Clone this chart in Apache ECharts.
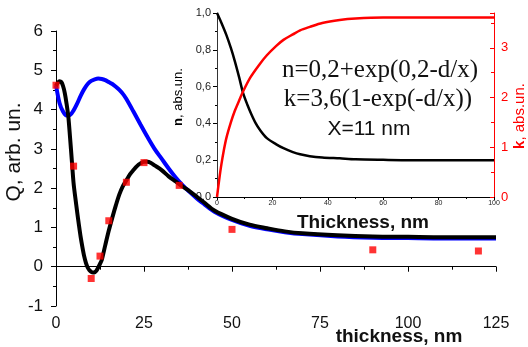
<!DOCTYPE html>
<html>
<head>
<meta charset="utf-8">
<script src="https://cdn.jsdelivr.net/npm/echarts@6/dist/echarts.min.js"></script>
<style>
  html, body { margin: 0; padding: 0; background: #fff; }
  #main { width: 528px; height: 347px; }
</style>
</head>
<body>
<div id="main"></div>
<script>
// main chart: Q vs thickness
const measured = [
  [0, 4.62], [5, 2.56], [10, -0.3], [12.5, 0.27], [15, 1.17], [20, 2.15],
  [25, 2.65], [35, 2.07], [50, 0.95], [90, 0.43], [120, 0.4]
];
const blackFit = [
  [0, 4.6], [0.5, 4.68], [1, 4.72], [1.5, 4.7], [2, 4.6], [2.5, 4.42], [3, 4.15],
  [3.5, 3.82], [4, 3.28], [4.5, 2.7], [5, 2.12], [5.5, 1.75], [6, 1.4], [6.5, 1.07],
  [7, 0.76], [7.5, 0.5], [8, 0.27], [8.5, 0.1], [9, -0.02], [9.5, -0.09], [10, -0.13],
  [10.5, -0.15], [11, -0.14], [11.5, -0.1], [12, -0.02], [12.5, 0.07], [13, 0.17],
  [14, 0.55], [15, 0.92], [16, 1.25], [17, 1.56], [18, 1.84], [19, 2.05], [20, 2.2],
  [21, 2.35], [22, 2.46], [23, 2.56], [24, 2.63], [25, 2.67], [26, 2.67], [27, 2.64],
  [28, 2.58], [30, 2.46], [32, 2.3], [34, 2.17], [36, 2.04], [38, 1.92], [40, 1.78],
  [42, 1.64], [45, 1.43], [50, 1.22], [55, 1.07], [60, 0.98], [65, 0.9], [70, 0.85],
  [80, 0.8], [90, 0.77], [100, 0.76], [110, 0.75], [125, 0.75]
];
const blueFit = [
  [0, 4.62], [1, 4.17], [2, 3.95], [3, 3.85], [4, 3.86], [5, 3.98], [6, 4.15],
  [7, 4.35], [8, 4.52], [9, 4.65], [10, 4.73], [11, 4.77], [12, 4.79], [13, 4.78],
  [14, 4.75], [15, 4.7], [16, 4.65], [17, 4.58], [18, 4.5], [19, 4.4], [20, 4.27],
  [22, 3.95], [24, 3.62], [26, 3.3], [28, 3.0], [30, 2.75], [32, 2.5], [34, 2.27],
  [36, 2.07], [38, 1.9], [40, 1.74], [42, 1.6], [45, 1.4], [50, 1.19], [55, 1.04],
  [60, 0.95], [65, 0.88], [70, 0.83], [80, 0.77], [90, 0.74], [100, 0.73],
  [110, 0.72], [125, 0.72]
];
// inset: n and k vs thickness
const nCurve = [
  [0, 1.0], [1.5, 0.95], [3.4, 0.88], [5, 0.81], [6.4, 0.74], [8, 0.65],
  [9.4, 0.566], [11, 0.5], [12.4, 0.45], [14, 0.4], [15.4, 0.367], [18, 0.32],
  [21.4, 0.286], [24, 0.265], [27.4, 0.244], [30, 0.232], [33.5, 0.222], [38, 0.215],
  [44.3, 0.21], [50, 0.205], [60, 0.202], [70, 0.2], [100, 0.2]
];
const kCurve = [
  [0, 0], [0.8, 0.35], [1.6, 0.66], [2.5, 0.95], [3.4, 1.19], [5, 1.5], [6.4, 1.73],
  [8, 1.94], [9.4, 2.12], [12, 2.4], [15.4, 2.67], [18, 2.85], [21.4, 3.04],
  [24, 3.16], [27.4, 3.27], [30, 3.35], [33.5, 3.42], [38, 3.5], [44.3, 3.56],
  [50, 3.59], [60, 3.61], [100, 3.61]
];
const mainXTicks = { min: 0, max: 125, interval: 25 };
const mainYTicks = { min: -1, max: 6, interval: 1 };
const insetXTicks = { min: 0, max: 100, interval: 20 };
const insetNTicks = { min: 0, max: 1, interval: 0.2 };
const insetKTicks = { min: 0, max: 3.7, interval: 1 };

const chart = echarts.init(document.getElementById('main'));
const font = 'Liberation Sans, Arial, sans-serif';
const black = '#000';
const red = '#ff0000';

const option = {
  animation: false,
  backgroundColor: '#fff',
  grid: [
    { left: 56, right: 32, top: 31, bottom: 41, outerBoundsMode: 'none', containLabel: false },
    { left: 217, right: 34, top: 13, bottom: 150, outerBoundsMode: 'none', containLabel: false }
  ],
  xAxis: [
    {
      gridIndex: 0, type: 'value', ...mainXTicks,
      axisLine: { lineStyle: { color: black, width: 1 } },
      axisTick: { inside: false, length: 5, lineStyle: { color: black } },
      minorTick: { show: true, splitNumber: 2, length: 3, lineStyle: { color: black } },
      splitLine: { show: false },
      axisLabel: { color: '#111', fontSize: 16, fontFamily: font, margin: 10 }
    },
    {
      gridIndex: 1, type: 'value', ...insetXTicks,
      axisLine: { lineStyle: { color: black, width: 1 } },
      axisTick: { length: 3, lineStyle: { color: black } },
      minorTick: { show: true, splitNumber: 2, length: 2, lineStyle: { color: black } },
      splitLine: { show: false },
      axisLabel: { color: '#222', fontSize: 7, fontFamily: font, margin: 3 }
    }
  ],
  yAxis: [
    {
      gridIndex: 0, type: 'value', ...mainYTicks, offset: 3,
      axisLine: { show: true, lineStyle: { color: black, width: 1 } },
      axisTick: { show: true, length: 5, lineStyle: { color: black } },
      minorTick: { show: true, splitNumber: 2, length: 3, lineStyle: { color: black } },
      splitLine: { show: false },
      axisLabel: { color: '#111', fontSize: 17, fontFamily: font, margin: 10 }
    },
    {
      gridIndex: 1, type: 'value', ...insetNTicks,
      name: '{b|n}, abs.un.', nameLocation: 'middle', nameRotate: 90, nameGap: 30,
      nameTextStyle: {
        color: black, fontSize: 13, fontFamily: font, padding: [0, 0, 0, 16],
        rich: { b: { fontWeight: 'bold', fontSize: 13, fontFamily: font, color: black } }
      },
      axisLine: { show: true, lineStyle: { color: '#333', width: 1 } },
      axisTick: { show: true, length: 4, lineStyle: { color: black } },
      minorTick: { show: true, splitNumber: 2, length: 2, lineStyle: { color: black } },
      splitLine: { show: false },
      axisLabel: {
        color: '#222', fontSize: 11, fontFamily: font, margin: 6,
        formatter: v => v.toFixed(1).replace('.', ',')
      }
    },
    {
      gridIndex: 1, type: 'value', position: 'right', ...insetKTicks,
      axisLine: { show: true, lineStyle: { color: red, width: 1 } },
      axisTick: { show: true, inside: true, length: 4, lineStyle: { color: red } },
      minorTick: { show: true, splitNumber: 2, length: 3, lineStyle: { color: red } },
      splitLine: { show: false },
      axisLabel: { color: red, fontSize: 13, fontFamily: font, margin: 7, showMaxLabel: false }
    }
  ],
  series: [
    {
      type: 'line', xAxisIndex: 0, yAxisIndex: 0, data: blueFit, smooth: 0.3,
      showSymbol: false, lineStyle: { color: '#0000ff', width: 4 }, z: 2
    },
    {
      type: 'line', xAxisIndex: 0, yAxisIndex: 0, data: blackFit, smooth: 0.3,
      showSymbol: false, lineStyle: { color: black, width: 4 }, z: 3
    },
    {
      type: 'scatter', xAxisIndex: 0, yAxisIndex: 0, data: measured,
      symbol: 'rect', symbolSize: 7, itemStyle: { color: red }, z: 4
    },
    {
      type: 'line', xAxisIndex: 1, yAxisIndex: 1, data: nCurve, smooth: 0.3,
      showSymbol: false, lineStyle: { color: black, width: 2.5 }, z: 5
    },
    {
      type: 'line', xAxisIndex: 1, yAxisIndex: 2, data: kCurve, smooth: 0.3,
      showSymbol: false, lineStyle: { color: red, width: 2.5 }, z: 5
    }
  ],
  graphic: [
    {
      type: 'text', x: 14, y: 152, rotation: Math.PI / 2,
      style: { text: 'Q, arb. un.', font: '21px ' + font, fill: '#111', textAlign: 'center', textVerticalAlign: 'middle' }
    },
    {
      type: 'text', x: 520, y: 116, rotation: Math.PI / 2,
      style: {
        text: '{b|k}, abs.un.', fill: red, fontSize: 15, fontFamily: font,
        textAlign: 'center', textVerticalAlign: 'middle', align: 'center', verticalAlign: 'middle',
        rich: { b: { fontWeight: 'bold', fontSize: 15, fontFamily: font, fill: red, color: red } }
      }
    },
    {
      type: 'text', x: 399, y: 337,
      style: { text: 'thickness, nm', font: 'bold 19px ' + font, fill: '#111', textAlign: 'center', textVerticalAlign: 'middle' }
    },
    {
      type: 'text', x: 363, y: 223,
      style: { text: 'Thickness, nm', font: 'bold 19px ' + font, fill: '#111', textAlign: 'center', textVerticalAlign: 'middle' }
    },
    {
      type: 'text', x: 380, y: 70,
      style: { text: 'n=0,2+exp(0,2-d/x)', font: '25px Liberation Serif, Times New Roman, serif', fill: '#111', textAlign: 'center', textVerticalAlign: 'middle' }
    },
    {
      type: 'text', x: 378, y: 99,
      style: { text: 'k=3,6(1-exp(-d/x))', font: '25px Liberation Serif, Times New Roman, serif', fill: '#111', textAlign: 'center', textVerticalAlign: 'middle' }
    },
    {
      type: 'text', x: 369, y: 129,
      style: { text: 'X=11 nm', font: '21px ' + font, fill: '#111', textAlign: 'center', textVerticalAlign: 'middle' }
    }
  ]
};

chart.setOption(option);
</script>
</body>
</html>
